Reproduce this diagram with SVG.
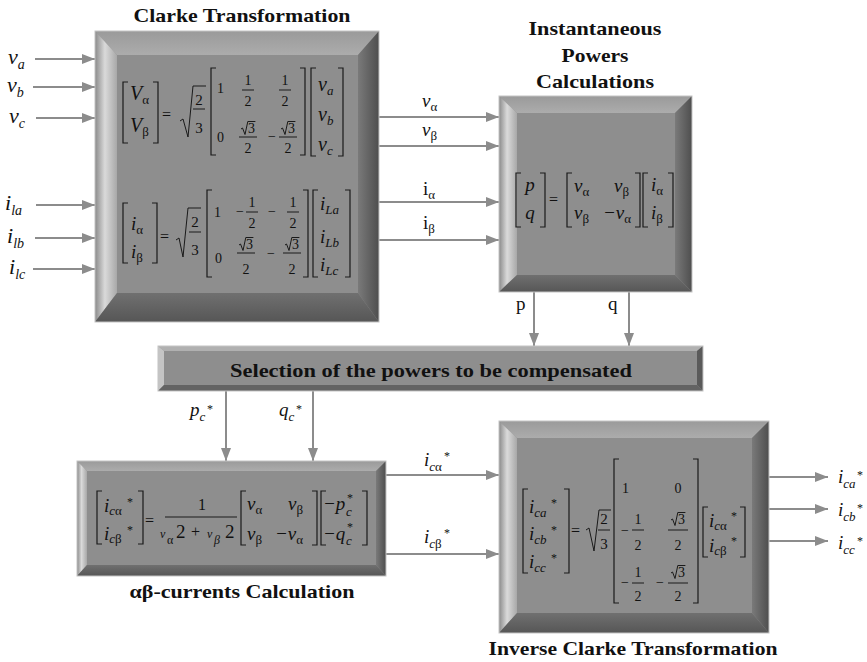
<svg xmlns="http://www.w3.org/2000/svg" xmlns:xlink="http://www.w3.org/1999/xlink" width="867" height="662" viewBox="0 0 867 662">
<style>
text{font-family:"Liberation Serif","Times New Roman",serif;fill:#111}
.tt{font-weight:bold;font-size:19px;text-anchor:middle}
.mi{font-style:italic;font-size:19px}
.big{font-style:italic;font-size:22px}
.up{font-size:19px}
.sb{font-size:13px;font-style:normal}
.si{font-size:13px;font-style:italic}
.sl{font-size:14px;font-style:italic}
.n{font-size:14px}
.st{font-size:12px}
.nm{font-size:14px;text-anchor:middle}
.f2{font-size:15px;text-anchor:middle}
.eq{font-size:16px}
.br{fill:none;stroke:#1a1a1a;stroke-width:1.2}
.bar{stroke:#1a1a1a;stroke-width:1}
.rad{fill:none;stroke:#1a1a1a;stroke-width:1}
.face{fill:#8e8e8e}
.edge{fill:none;stroke:#c4c4c4;stroke-width:1}
.con{stroke:#8c8c8c;stroke-width:2;fill:none;marker-end:url(#ah)}
</style>
<defs>
<marker id="ah" viewBox="0 0 13 10" refX="13" refY="5" markerWidth="13" markerHeight="10" markerUnits="userSpaceOnUse" orient="auto">
<path d="M0,0L13,5L0,10z" fill="#8c8c8c"/>
</marker>
<linearGradient id="gL" x1="0" y1="0" x2="1" y2="0">
<stop offset="0" stop-color="#8a8a8a"/><stop offset="0.45" stop-color="#dadada"/><stop offset="1" stop-color="#a8a8a8"/>
</linearGradient>
<linearGradient id="gT" x1="0" y1="0" x2="0" y2="1">
<stop offset="0" stop-color="#9a9a9a"/><stop offset="1" stop-color="#acacac"/>
</linearGradient>
<linearGradient id="gR" x1="0" y1="0" x2="1" y2="0">
<stop offset="0" stop-color="#7a7a7a"/><stop offset="1" stop-color="#4e4e4e"/>
</linearGradient>
<linearGradient id="gB" x1="0" y1="0" x2="0" y2="1">
<stop offset="0" stop-color="#707070"/><stop offset="1" stop-color="#565656"/>
</linearGradient>
<path id="r3" class="rad" d="M0,-4l1.5,-1l2.5,6.5l2.8,-13h7.6"/>
</defs>

<g id="connectors">
<line class="con" x1="35" y1="59" x2="95" y2="59"/>
<line class="con" x1="33" y1="87" x2="95" y2="87"/>
<line class="con" x1="36" y1="118" x2="95" y2="118"/>
<line class="con" x1="36" y1="205" x2="95" y2="205"/>
<line class="con" x1="35" y1="238" x2="95" y2="238"/>
<line class="con" x1="33" y1="269" x2="95" y2="269"/>
<line class="con" x1="379" y1="117" x2="499" y2="117"/>
<line class="con" x1="379" y1="146" x2="499" y2="146"/>
<line class="con" x1="379" y1="202" x2="499" y2="202"/>
<line class="con" x1="379" y1="240" x2="499" y2="240"/>
<line class="con" x1="534" y1="292" x2="534" y2="346"/>
<line class="con" x1="629" y1="292" x2="629" y2="346"/>
<line class="con" x1="226" y1="391" x2="226" y2="461"/>
<line class="con" x1="313" y1="391" x2="313" y2="461"/>
<line class="con" x1="386" y1="475" x2="499" y2="475"/>
<line class="con" x1="386" y1="554" x2="499" y2="554"/>
<line class="con" x1="769" y1="477" x2="828" y2="477"/>
<line class="con" x1="769" y1="509" x2="828" y2="509"/>
<line class="con" x1="769" y1="541" x2="828" y2="541"/>
</g>

<g id="labels">
<text class="big" x="8" y="64">v<tspan class="sl" dy="5">a</tspan></text>
<text class="big" x="7" y="92">v<tspan class="sl" dy="5">b</tspan></text>
<text class="big" x="9" y="123">v<tspan class="sl" dy="5">c</tspan></text>
<text class="big" x="5" y="210">i<tspan class="sl" dy="5">la</tspan></text>
<text class="big" x="7" y="243">i<tspan class="sl" dy="5">lb</tspan></text>
<text class="big" x="9" y="274">i<tspan class="sl" dy="5">lc</tspan></text>
<text class="mi" x="422" y="107">v<tspan class="sb" dy="4">α</tspan></text>
<text class="mi" x="422" y="136">v<tspan class="sb" dy="4">β</tspan></text>
<text class="up" x="423" y="195">i<tspan class="sb" dy="4">α</tspan></text>
<text class="up" x="423" y="229">i<tspan class="sb" dy="4">β</tspan></text>
<text class="up" x="516" y="310">p</text>
<text class="up" x="608" y="310">q</text>
<text class="mi" x="190" y="416">p<tspan class="si" dy="5">c</tspan></text>
<text class="st" x="207" y="413">*</text>
<text class="mi" x="279" y="416">q<tspan class="si" dy="5">c</tspan></text>
<text class="st" x="296" y="413">*</text>
<text class="mi" x="424" y="466">i<tspan class="si" dy="5">c</tspan><tspan class="sb">α</tspan></text>
<text class="st" x="444" y="460">*</text>
<text class="mi" x="424" y="543">i<tspan class="si" dy="5">c</tspan><tspan class="sb">β</tspan></text>
<text class="st" x="444" y="537">*</text>
<text class="mi" x="838" y="483">i<tspan class="si" dy="5">ca</tspan></text>
<text class="st" x="857" y="479">*</text>
<text class="mi" x="838" y="516">i<tspan class="si" dy="5">cb</tspan></text>
<text class="st" x="857" y="512">*</text>
<text class="mi" x="838" y="549">i<tspan class="si" dy="5">cc</tspan></text>
<text class="st" x="857" y="545">*</text>
</g>

<g id="clarke">
<text class="tt" x="242" y="22" textLength="217" lengthAdjust="spacingAndGlyphs">Clarke Transformation</text>
<rect class="face" x="95" y="31" width="284" height="291"/>
<polygon fill="url(#gT)" points="95,31 379,31 358,55 117,55"/>
<polygon fill="url(#gL)" points="95,31 117,55 117,293 95,322"/>
<polygon fill="url(#gR)" points="379,31 379,322 358,293 358,55"/>
<polygon fill="url(#gB)" points="95,322 117,293 358,293 379,322"/>
<rect class="edge" x="95" y="31" width="284" height="291"/>
<path class="br" d="M128,82H123V143H128M153,82H158V143H153"/>
<text class="mi" x="130" y="100" style="font-size:20px">V<tspan class="sb" dy="4">α</tspan></text>
<text class="mi" x="130" y="132" style="font-size:20px">V<tspan class="sb" dy="4">β</tspan></text>
<text class="eq" x="162" y="120">=</text>
<path class="rad" d="M180,121L183,119L188,137L193,86H206"/>
<text class="f2" x="199" y="105">2</text>
<line class="bar" x1="193" y1="109" x2="205" y2="109"/>
<text class="f2" x="199" y="133">3</text>
<path class="br" d="M216,68H211V155H216M300,68H305V155H300"/>
<text class="n" x="217" y="93">1</text>
<text class="nm" x="248" y="85">1</text>
<line class="bar" x1="242" y1="90" x2="254" y2="90"/>
<text class="nm" x="248" y="106">2</text>
<text class="nm" x="285" y="85">1</text>
<line class="bar" x1="279" y1="90" x2="291" y2="90"/>
<text class="nm" x="285" y="106">2</text>
<text class="n" x="217" y="142">0</text>
<use xlink:href="#r3" x="241" y="133"/>
<text class="n" x="248" y="133">3</text>
<line class="bar" x1="239" y1="137" x2="257" y2="137"/>
<text class="nm" x="248" y="153">2</text>
<text class="n" x="268" y="141">−</text>
<use xlink:href="#r3" x="281" y="133"/>
<text class="n" x="288" y="133">3</text>
<line class="bar" x1="279" y1="137" x2="297" y2="137"/>
<text class="nm" x="288" y="153">2</text>
<path class="br" d="M316,68H311V156H316M338,68H343V156H338"/>
<text class="mi" x="318" y="91" style="font-size:20px">v<tspan class="si" dy="4">a</tspan></text>
<text class="mi" x="318" y="121" style="font-size:20px">v<tspan class="si" dy="4">b</tspan></text>
<text class="mi" x="318" y="151" style="font-size:20px">v<tspan class="si" dy="4">c</tspan></text>

<path class="br" d="M128,203H123V263H128M152,203H157V263H152"/>
<text class="mi" x="131" y="230">i<tspan class="sb" dy="4">α</tspan></text>
<text class="mi" x="131" y="258">i<tspan class="sb" dy="4">β</tspan></text>
<text class="eq" x="160" y="242">=</text>
<path class="rad" d="M176,240L179,238L183,257L188,208H201"/>
<text class="f2" x="195" y="227">2</text>
<line class="bar" x1="189" y1="232" x2="201" y2="232"/>
<text class="f2" x="195" y="255">3</text>
<path class="br" d="M212,190H207V277H212M303,190H308V277H303"/>
<text class="n" x="214" y="217">1</text>
<text class="n" x="236" y="216">−</text>
<text class="nm" x="252" y="207">1</text>
<line class="bar" x1="246" y1="212" x2="258" y2="212"/>
<text class="nm" x="252" y="228">2</text>
<text class="n" x="268" y="216">−</text>
<text class="nm" x="293" y="207">1</text>
<line class="bar" x1="287" y1="212" x2="299" y2="212"/>
<text class="nm" x="293" y="228">2</text>
<text class="n" x="215" y="263">0</text>
<use xlink:href="#r3" x="239" y="249"/>
<text class="n" x="246" y="249">3</text>
<line class="bar" x1="237" y1="253" x2="255" y2="253"/>
<text class="nm" x="246" y="274">2</text>
<text class="n" x="267" y="258">−</text>
<use xlink:href="#r3" x="285" y="249"/>
<text class="n" x="292" y="249">3</text>
<line class="bar" x1="283" y1="253" x2="301" y2="253"/>
<text class="nm" x="292" y="274">2</text>
<path class="br" d="M318,190H313V277H318M345,190H350V277H345"/>
<text class="mi" x="320" y="210">i<tspan class="si" dy="4">La</tspan></text>
<text class="mi" x="320" y="243">i<tspan class="si" dy="4">Lb</tspan></text>
<text class="mi" x="320" y="271">i<tspan class="si" dy="4">Lc</tspan></text>
</g>

<g id="instantaneous">
<text class="tt" x="595" y="35" textLength="133" lengthAdjust="spacingAndGlyphs">Instantaneous</text>
<text class="tt" x="595" y="62" textLength="67" lengthAdjust="spacingAndGlyphs">Powers</text>
<text class="tt" x="595" y="88" textLength="118" lengthAdjust="spacingAndGlyphs">Calculations</text>
<rect class="face" x="499" y="96" width="193" height="196"/>
<polygon fill="url(#gT)" points="499,96 692,96 675,113 517,113"/>
<polygon fill="url(#gL)" points="499,96 517,113 517,275 499,292"/>
<polygon fill="url(#gR)" points="692,96 692,292 675,275 675,113"/>
<polygon fill="url(#gB)" points="499,292 517,275 675,275 692,292"/>
<rect class="edge" x="499" y="96" width="193" height="196"/>
<path class="br" d="M521,173H516V227H521M540,173H545V227H540"/>
<text class="mi" x="530" y="191" text-anchor="middle">p</text>
<text class="mi" x="530" y="219" text-anchor="middle">q</text>
<text class="eq" x="549" y="205">=</text>
<path class="br" d="M572,173H567V227H572M635,173H640V227H635"/>
<text class="mi" x="574" y="192">v<tspan class="sb" dy="4">α</tspan></text>
<text class="mi" x="614" y="192">v<tspan class="sb" dy="4">β</tspan></text>
<text class="mi" x="574" y="219">v<tspan class="sb" dy="4">β</tspan></text>
<text class="mi" x="603" y="219">−v<tspan class="sb" dy="4">α</tspan></text>
<path class="br" d="M648,173H643V227H648M668,173H673V227H668"/>
<text class="mi" x="651" y="191">i<tspan class="sb" dy="4">α</tspan></text>
<text class="mi" x="651" y="219">i<tspan class="sb" dy="4">β</tspan></text>
</g>

<g id="selection">
<rect class="face" x="158" y="346" width="545" height="45"/>
<polygon fill="#b0b0b0" points="158,346 703,346 697,351 164,351"/>
<polygon fill="#c4c4c4" points="158,346 164,351 164,385 158,391"/>
<polygon fill="#5a5a5a" points="703,346 703,391 697,385 697,351"/>
<polygon fill="#636363" points="158,391 164,385 697,385 703,391"/>
<rect class="edge" x="158" y="346" width="545" height="45"/>
<text class="tt" x="431" y="377" textLength="402" lengthAdjust="spacingAndGlyphs">Selection of the powers to be compensated</text>
</g>

<g id="ab-currents">
<rect class="face" x="77" y="461" width="309" height="115"/>
<polygon fill="url(#gT)" points="77,461 386,461 376,471 87,471"/>
<polygon fill="url(#gL)" points="77,461 87,471 87,565 77,576"/>
<polygon fill="url(#gR)" points="386,461 386,576 376,565 376,471"/>
<polygon fill="url(#gB)" points="77,576 87,565 376,565 386,576"/>
<rect class="edge" x="77" y="461" width="309" height="115"/>
<path class="br" d="M102,491H97V544H102M138,491H143V544H138"/>
<text class="mi" x="104" y="512">i<tspan class="si" dy="3">c</tspan><tspan class="sb">α</tspan></text>
<text class="st" x="127" y="506">*</text>
<text class="mi" x="104" y="540">i<tspan class="si" dy="3">c</tspan><tspan class="sb">β</tspan></text>
<text class="st" x="127" y="534">*</text>
<text class="eq" x="145" y="526">=</text>
<text class="eq" x="202" y="510" text-anchor="middle">1</text>
<line class="bar" x1="165" y1="517" x2="237" y2="517"/>
<text x="160" y="538" style="font-size:12px;font-style:italic">v</text>
<text x="167" y="544" style="font-size:12px">α</text>
<text x="176" y="538" style="font-size:19px">2</text>
<text x="191" y="537" style="font-size:16px">+</text>
<text x="207" y="538" style="font-size:12px;font-style:italic">v</text>
<text x="214" y="544" style="font-size:12px;font-style:italic">β</text>
<text x="225" y="538" style="font-size:19px">2</text>
<path class="br" d="M246,491H241V545H246M312,491H317V545H312"/>
<text class="mi" x="247" y="510">v<tspan class="sb" dy="4">α</tspan></text>
<text class="mi" x="288" y="510">v<tspan class="sb" dy="4">β</tspan></text>
<text class="mi" x="247" y="540">v<tspan class="sb" dy="4">β</tspan></text>
<text class="mi" x="275" y="540">−v<tspan class="sb" dy="4">α</tspan></text>
<path class="br" d="M326,491H321V545H326M362,491H367V545H362"/>
<text class="mi" x="323" y="510">−p</text>
<text class="si" x="346" y="516">c</text>
<text class="st" x="347" y="502">*</text>
<text class="mi" x="323" y="540">−q</text>
<text class="si" x="346" y="545">c</text>
<text class="st" x="347" y="531">*</text>
<text class="tt" x="242" y="598" textLength="225" lengthAdjust="spacingAndGlyphs">αβ-currents Calculation</text>
</g>

<g id="inverse-clarke">
<rect class="face" x="499" y="421" width="270" height="212"/>
<polygon fill="url(#gT)" points="499,421 769,421 752,438 517,438"/>
<polygon fill="url(#gL)" points="499,421 517,438 517,613 499,633"/>
<polygon fill="url(#gR)" points="769,421 769,633 752,613 752,438"/>
<polygon fill="url(#gB)" points="499,633 517,613 752,613 769,633"/>
<rect class="edge" x="499" y="421" width="270" height="212"/>
<path class="br" d="M528,489H523V573H528M564,489H569V573H564"/>
<text class="mi" x="529" y="513">i<tspan class="si" dy="4">ca</tspan></text>
<text class="st" x="551" y="507">*</text>
<text class="mi" x="529" y="540">i<tspan class="si" dy="4">cb</tspan></text>
<text class="st" x="551" y="534">*</text>
<text class="mi" x="529" y="568">i<tspan class="si" dy="4">cc</tspan></text>
<text class="st" x="551" y="562">*</text>
<text class="eq" x="571" y="536">=</text>
<path class="rad" d="M586,530L589,528L594,551L599,510H611"/>
<text class="f2" x="604" y="524">2</text>
<line class="bar" x1="598" y1="530" x2="610" y2="530"/>
<text class="f2" x="604" y="549">3</text>
<path class="br" d="M619,459H614V603H619M693,459H698V603H693"/>
<text class="n" x="622" y="493">1</text>
<text class="nm" x="678" y="493">0</text>
<text class="n" x="621" y="535">−</text>
<text class="nm" x="638" y="524">1</text>
<line class="bar" x1="632" y1="530" x2="644" y2="530"/>
<text class="nm" x="638" y="550">2</text>
<use xlink:href="#r3" x="671" y="524"/>
<text class="n" x="678" y="524">3</text>
<line class="bar" x1="668" y1="530" x2="688" y2="530"/>
<text class="nm" x="678" y="550">2</text>
<text class="n" x="621" y="587">−</text>
<text class="nm" x="638" y="577">1</text>
<line class="bar" x1="632" y1="583" x2="644" y2="583"/>
<text class="nm" x="638" y="601">2</text>
<text class="n" x="656" y="587">−</text>
<use xlink:href="#r3" x="671" y="577"/>
<text class="n" x="678" y="577">3</text>
<line class="bar" x1="668" y1="583" x2="688" y2="583"/>
<text class="nm" x="678" y="601">2</text>
<path class="br" d="M708,507H703V557H708M740,507H745V557H740"/>
<text class="mi" x="709" y="527">i<tspan class="si" dy="3">c</tspan><tspan class="sb">α</tspan></text>
<text class="st" x="731" y="520">*</text>
<text class="mi" x="709" y="552">i<tspan class="si" dy="3">c</tspan><tspan class="sb">β</tspan></text>
<text class="st" x="731" y="545">*</text>
<text class="tt" x="633" y="655" textLength="289" lengthAdjust="spacingAndGlyphs">Inverse Clarke Transformation</text>
</g>
</svg>
